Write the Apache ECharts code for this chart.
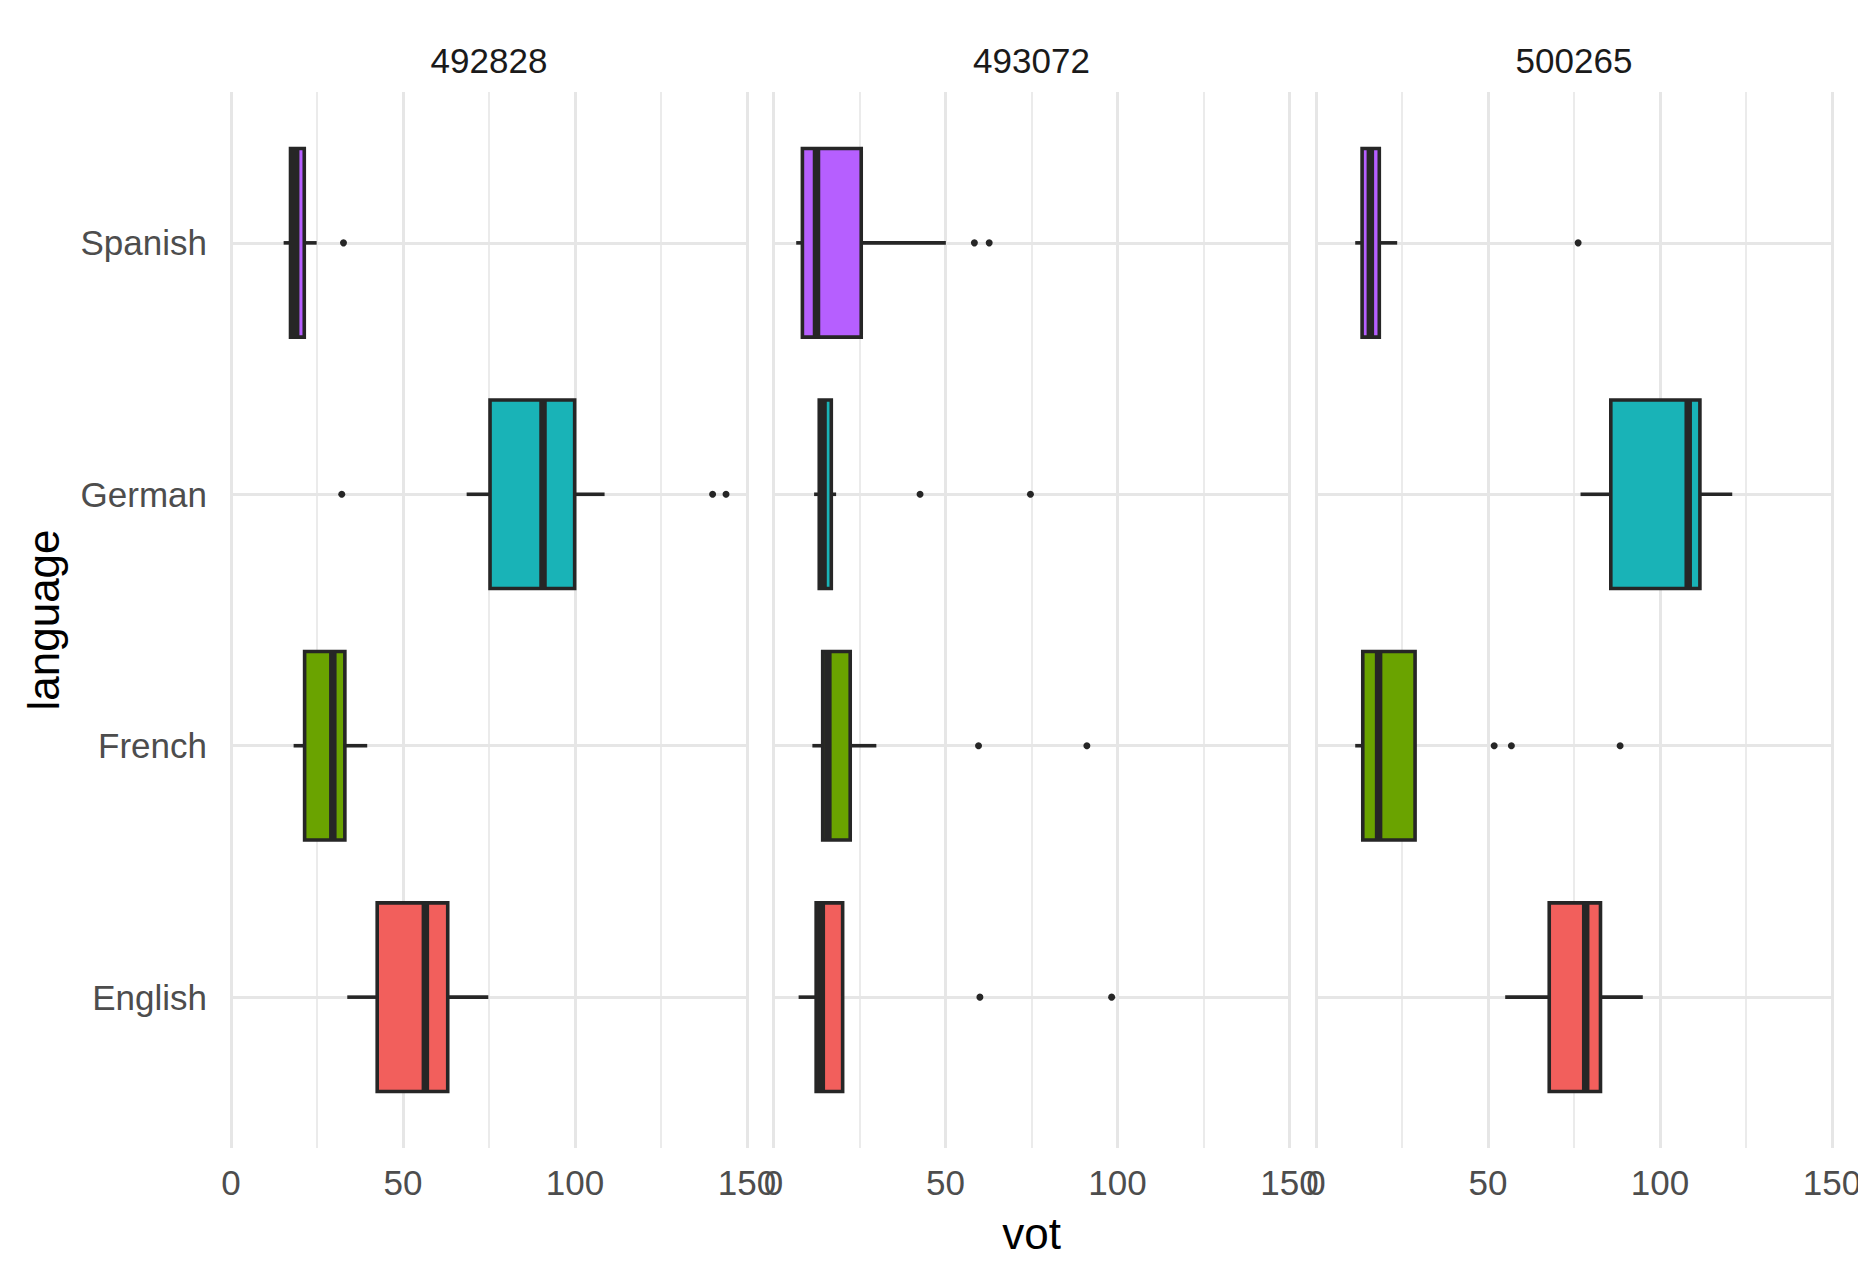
<!DOCTYPE html>
<html>
<head>
<meta charset="utf-8">
<style>
  html, body { margin: 0; padding: 0; background: #ffffff; }
  #chart { width: 1858px; height: 1279px; }
</style>
<script src="https://cdn.jsdelivr.net/npm/echarts@6/dist/echarts.min.js"></script>
</head>
<body>
<div id="chart"></div>
<script>
// ---------------- data ----------------
const languages = ['English', 'French', 'German', 'Spanish'];
const speakers = ['492828', '493072', '500265'];
const xTicks = [0, 50, 100, 150];
const fillColors = ['#F25F5C', '#6AA300', '#19B3B7', '#B65FFF'];

// rows follow `languages`; each row = [lower whisker, Q1, median, Q3, upper whisker]
const box492828 = [
  [33.8, 42.5, 56.5, 63.0, 74.8],
  [18.2, 21.4, 29.6, 33.1, 39.6],
  [68.5, 75.3, 90.7, 99.9, 108.6],
  [15.3, 17.3, 18.8, 21.3, 24.9]
];
const out492828 = [[], [], [32.2, 140.0, 143.9], [32.7]];

const box493072 = [
  [7.3, 12.4, 13.9, 20.1, 20.1],
  [11.3, 14.3, 15.8, 22.3, 29.9],
  [11.8, 13.3, 14.4, 16.8, 18.2],
  [6.6, 8.4, 12.5, 25.5, 50.1]
];
const out493072 = [[60.0, 98.3], [59.6, 91.1], [42.6, 74.7], [58.4, 62.7]];

const box500265 = [
  [55.0, 67.8, 78.4, 82.7, 95.0],
  [11.4, 13.6, 18.2, 28.8, 28.8],
  [76.9, 85.7, 108.2, 111.6, 121.0],
  [11.4, 13.4, 15.8, 18.4, 23.6]
];
const out500265 = [[], [51.8, 56.8, 88.4], [], [76.2]];

const boxes = [box492828, box493072, box500265];
const outliers = [out492828, out493072, out500265];

// ---------------- layout ----------------
const FONT = '"Liberation Sans", Arial, Helvetica, sans-serif';
const DARK = '#262626';
const GRIDC = '#e6e6e6';
const panelLeft = [231, 773.5, 1316];
const panelWidth = 516;
const frameTop = 92;
const frameHeight = 1056;
const band = frameHeight / 4.2;
const dataTop = frameTop + 0.1 * band;
const dataHeight = 4 * band;

const chart = echarts.init(document.getElementById('chart'), null, { renderer: 'svg' });

const grids = [], xAxes = [], yAxes = [], series = [];

// frame grids (gridlines + x tick labels)
for (let p = 0; p < 3; p++) {
  grids.push({ left: panelLeft[p], width: panelWidth, top: frameTop, height: frameHeight,
    containLabel: false, outerBoundsMode: 'none' });
  xAxes.push({
    type: 'value', gridIndex: p, min: 0, max: 150, interval: 50,
    axisLine: { show: false }, axisTick: { show: false },
    axisLabel: { show: true, fontSize: 35, color: '#4D4D4D', fontFamily: FONT, margin: 17,
      customValues: xTicks, hideOverlap: false },
    splitLine: { show: true, lineStyle: { color: GRIDC, width: 3 } },
    minorTick: { show: false, splitNumber: 2 },
    minorSplitLine: { show: true, lineStyle: { color: GRIDC, width: 1.6 } }
  });
  yAxes.push({
    type: 'value', gridIndex: p, min: 0.4, max: 4.6,
    axisLine: { show: false },
    axisTick: { show: false, customValues: [1, 2, 3, 4] },
    axisLabel: { show: false, customValues: [1, 2, 3, 4] },
    splitLine: { show: true, lineStyle: { color: GRIDC, width: 3 } }
  });
}
// data grids
for (let p = 0; p < 3; p++) {
  grids.push({ left: panelLeft[p], width: panelWidth, top: dataTop, height: dataHeight,
    containLabel: false, outerBoundsMode: 'none' });
  xAxes.push({
    type: 'value', gridIndex: 3 + p, min: 0, max: 150, interval: 50,
    axisLine: { show: false }, axisTick: { show: false }, axisLabel: { show: false },
    splitLine: { show: false }
  });
  yAxes.push({
    type: 'category', gridIndex: 3 + p, data: languages, boundaryGap: true,
    axisLine: { show: false }, axisTick: { show: false },
    axisLabel: { show: p === 0, fontSize: 35, color: '#4D4D4D', fontFamily: FONT, margin: 24 },
    splitLine: { show: false }
  });
}

function renderBox(params, api) {
  const cat = api.value(0);
  const lo = api.coord([api.value(1), cat]);
  const q1 = api.coord([api.value(2), cat]);
  const md = api.coord([api.value(3), cat]);
  const q3 = api.coord([api.value(4), cat]);
  const hi = api.coord([api.value(5), cat]);
  const bw = api.size([0, 1])[1] * 0.75;
  const y = q1[1];
  const color = fillColors[cat];
  return {
    type: 'group',
    children: [
      { type: 'line', shape: { x1: lo[0], y1: y, x2: q1[0], y2: y }, style: { stroke: DARK, lineWidth: 3.6 } },
      { type: 'line', shape: { x1: q3[0], y1: y, x2: hi[0], y2: y }, style: { stroke: DARK, lineWidth: 3.6 } },
      { type: 'rect', shape: { x: q1[0], y: y - bw / 2, width: q3[0] - q1[0], height: bw },
        style: { fill: color, stroke: DARK, lineWidth: 3.6 } },
      { type: 'line', shape: { x1: md[0], y1: y - bw / 2, x2: md[0], y2: y + bw / 2 },
        style: { stroke: DARK, lineWidth: 7.5 } }
    ]
  };
}

for (let p = 0; p < 3; p++) {
  const boxData = boxes[p].map((row, i) => [i].concat(row));
  series.push({
    type: 'custom', name: speakers[p] + ' boxes',
    xAxisIndex: 3 + p, yAxisIndex: 3 + p,
    renderItem: renderBox,
    encode: { x: [1, 2, 3, 4, 5], y: 0 },
    data: boxData, z: 3, silent: true
  });
  const pts = [];
  outliers[p].forEach((vals, i) => vals.forEach(v => pts.push([v, i])));
  series.push({
    type: 'scatter', name: speakers[p] + ' outliers',
    xAxisIndex: 3 + p, yAxisIndex: 3 + p,
    symbol: 'circle', symbolSize: 7,
    itemStyle: { color: DARK, opacity: 1 },
    data: pts, z: 4, silent: true
  });
}

const texts = speakers.map((s, p) => ({
  type: 'text', x: panelLeft[p] + panelWidth / 2, y: 60,
  style: { text: s, fontSize: 35, fontFamily: FONT, fill: '#1A1A1A',
    align: 'center', verticalAlign: 'middle', textAlign: 'center', textVerticalAlign: 'middle' }
}));
texts.push({
  type: 'text', x: (panelLeft[0] + panelLeft[2] + panelWidth) / 2, y: 1233,
  style: { text: 'vot', fontSize: 44, fontFamily: FONT, fill: '#000000',
    align: 'center', verticalAlign: 'middle', textAlign: 'center', textVerticalAlign: 'middle' }
});
texts.push({
  type: 'text', x: 43, y: frameTop + frameHeight / 2, rotation: Math.PI / 2,
  style: { text: 'language', fontSize: 44, fontFamily: FONT, fill: '#000000',
    align: 'center', verticalAlign: 'middle', textAlign: 'center', textVerticalAlign: 'middle' }
});

chart.setOption({
  backgroundColor: '#ffffff',
  animation: false,
  textStyle: { fontFamily: FONT },
  grid: grids,
  xAxis: xAxes,
  yAxis: yAxes,
  series: series,
  graphic: texts
});
</script>
</body>
</html>
